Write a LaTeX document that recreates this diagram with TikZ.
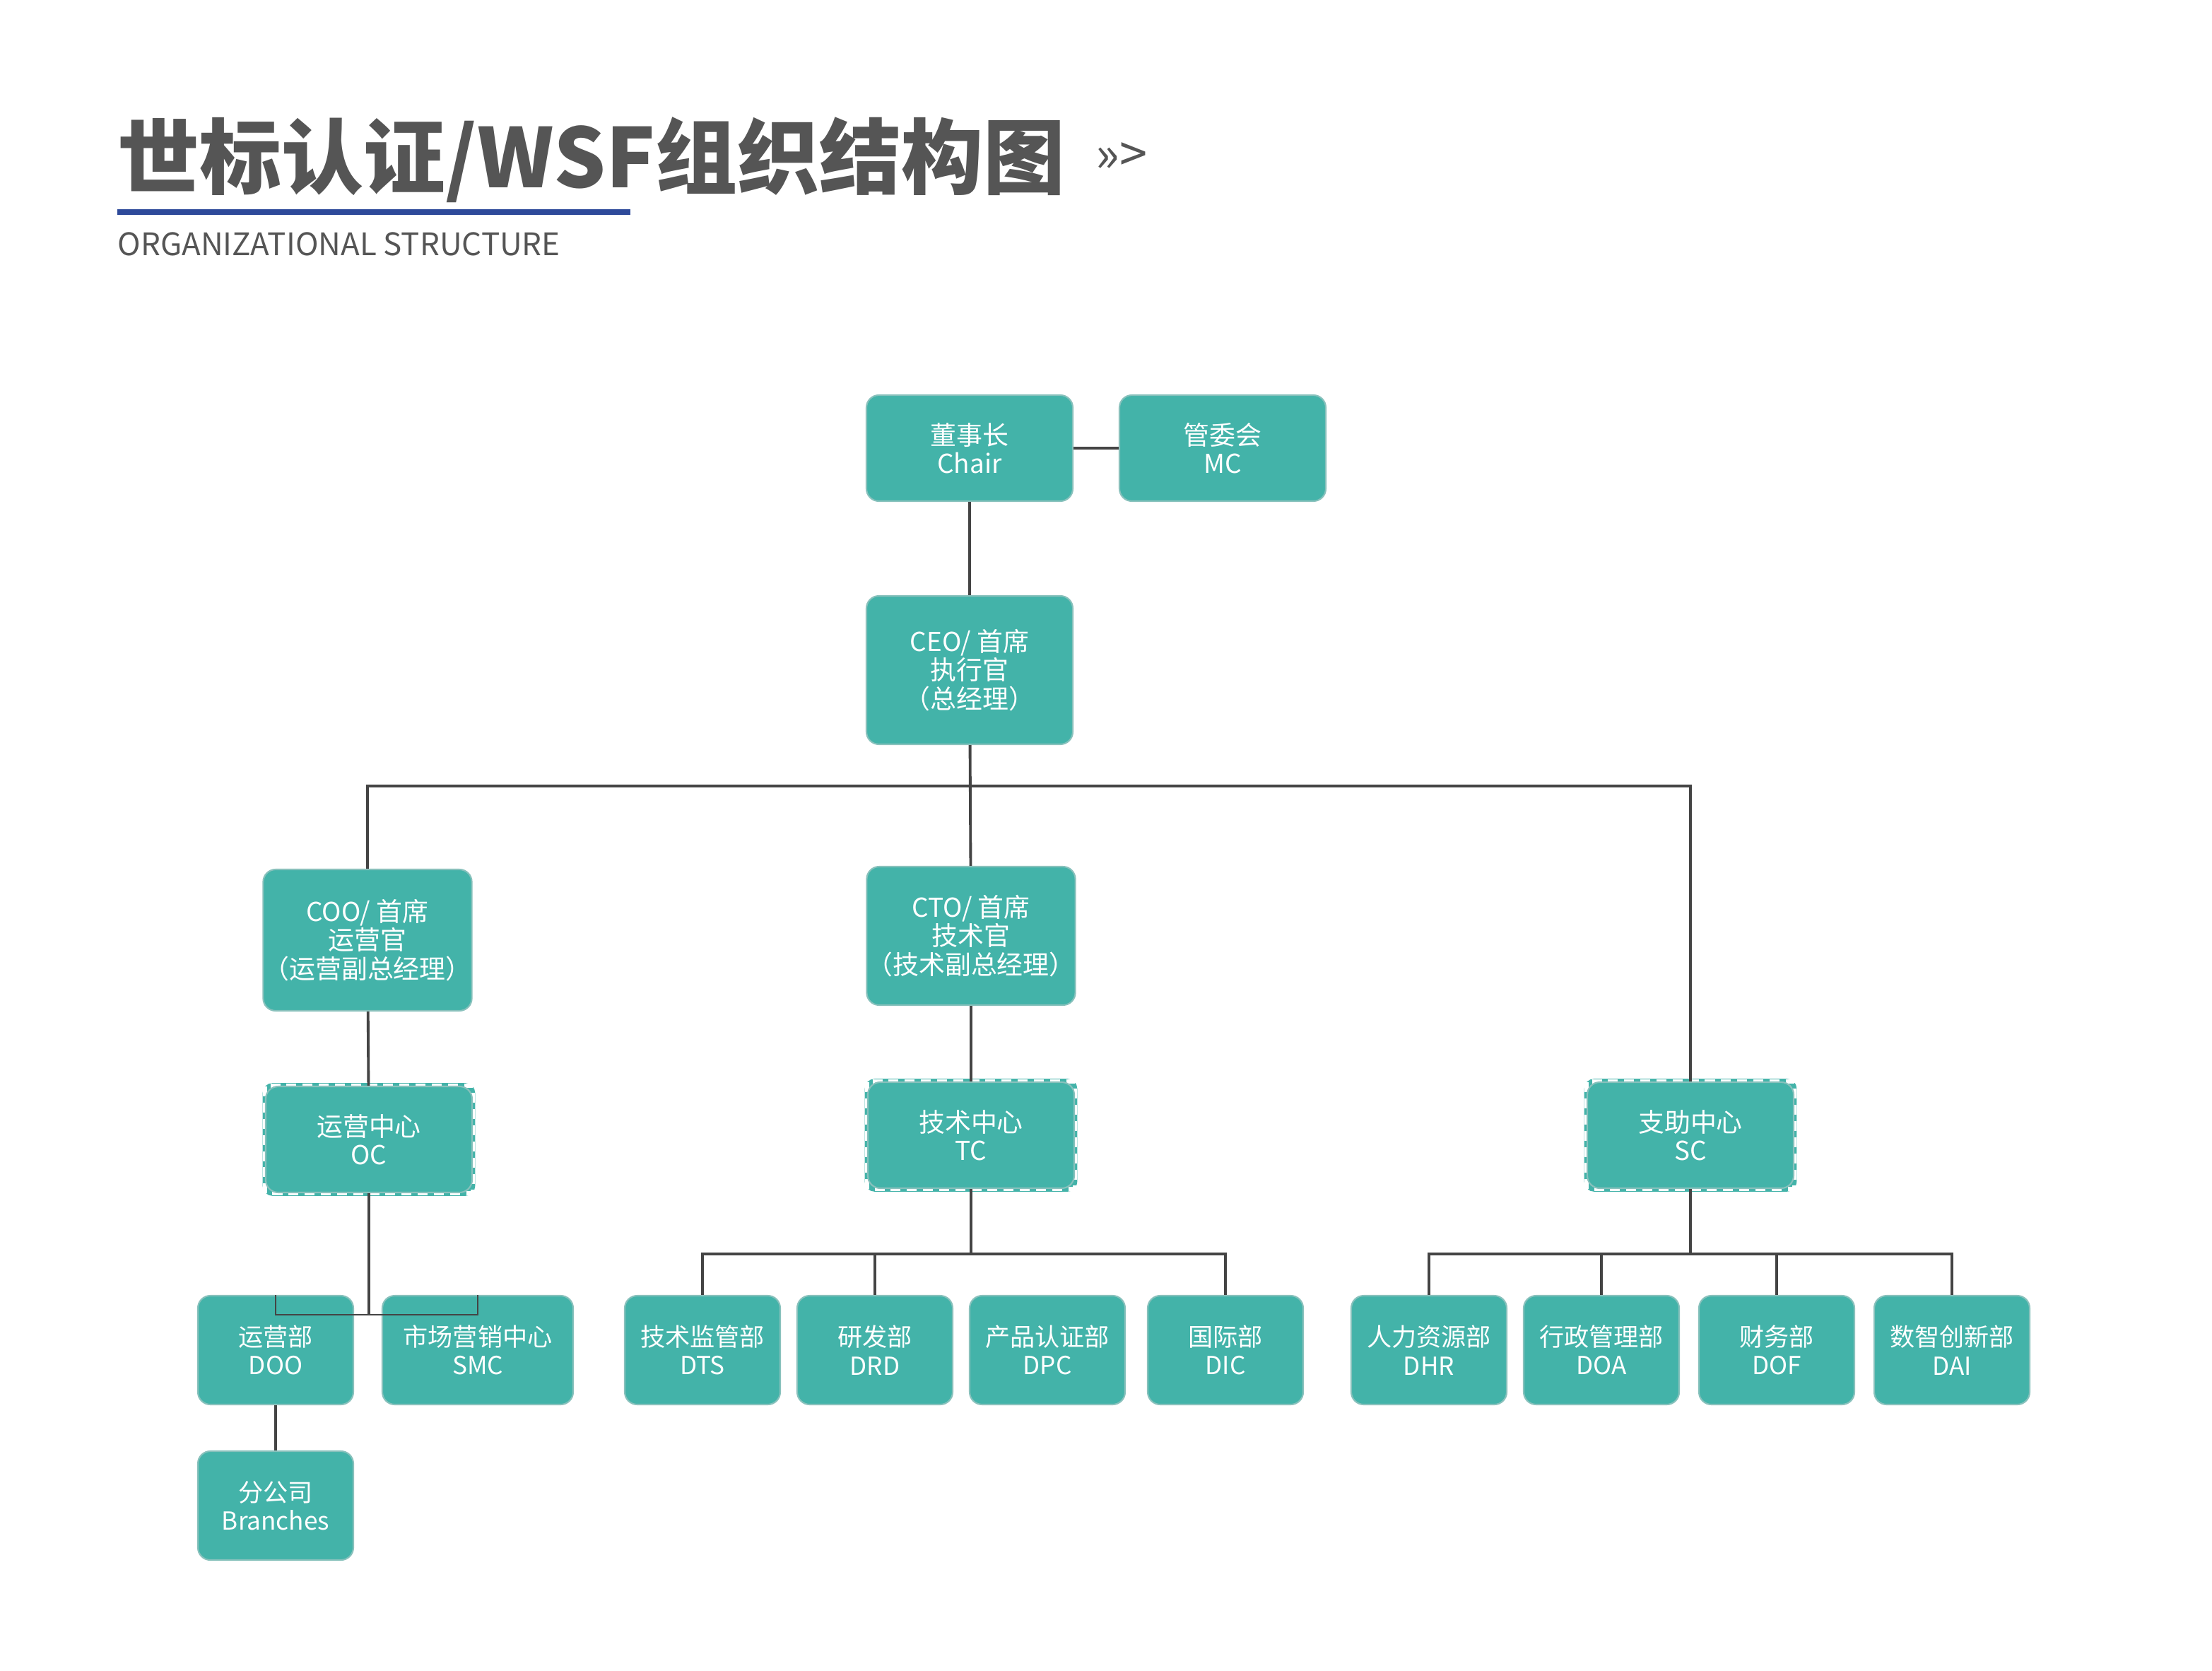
\documentclass[tikz,border=0pt]{standalone}
\usepackage{fontspec}
\setmainfont{Noto Sans CJK SC}
\usetikzlibrary{calc}
\definecolor{orgteal}{HTML}{43B3A9}
\definecolor{orgline}{HTML}{444444}
\definecolor{orgblue}{HTML}{2E4A9A}
\definecolor{orggray}{HTML}{555555}

\tikzset{
  unit/.style={fill=orgteal, draw=orgteal!85!black!60, line width=0.6pt, rounded corners=5pt,
    text=white, font=\fontsize{10.5}{11.5}\selectfont, align=center, inner sep=0pt,
    minimum width=2.92cm, minimum height=1.5cm,
    append after command={
      \pgfextra{\draw[white, line width=1.6pt, rounded corners=3pt]
        ($(\tikzlastnode.south west)+(0.12,0.12)$) rectangle ($(\tikzlastnode.north east)-(0.12,0.12)$);}}},
  centre/.style={unit,
    append after command={
      \pgfextra{\draw[orgteal, line width=2pt, rounded corners=3pt]
        ($(\tikzlastnode.south west)+(0.12,0.12)$) rectangle ($(\tikzlastnode.north east)-(0.12,0.12)$);
        \draw[white, line width=1.6pt, dash pattern=on 4pt off 2.5pt]
        ($(\tikzlastnode.south west)+(0.12,0.12)$) rectangle ($(\tikzlastnode.north east)-(0.12,0.12)$);}}},
  dept/.style={unit, minimum width=2.2cm, minimum height=1.54cm, font=\fontsize{10}{11.5}\selectfont},
  link/.style={draw=orgline, line width=1.1pt},
}

\begin{document}
\begin{tikzpicture}[x=0.02cm, y=-0.02cm]
\useasboundingbox (0,0) rectangle (1565,1182);

% title
\node[anchor=base west, inner sep=0pt, text=orggray, font=\fontsize{33}{36}\selectfont\bfseries] (title) at (83,133) {世标认证/WSF组织结构图};
\node[anchor=base west, inner sep=0pt, text=orggray, font=\fontsize{20}{22}\selectfont] (arrows) at (775,122) {>>>};
\fill[orgblue] (83,148) rectangle (446,152);
\node[anchor=base west, inner sep=0pt, text=orggray, font=\fontsize{12.5}{14}\selectfont] (sub) at (83,181) {ORGANIZATIONAL STRUCTURE};

% top
\node[unit] (chair) at (686,317) {董事长\\Chair};
\node[unit] (mc) at (865,317) {管委会\\MC};
\node[unit, minimum height=2.1cm] (ceo) at (686,474) {CEO/ 首席\\执行官\\（总经理）};

% second level
\node[unit, minimum height=2cm] (coo) at (260,665) {COO/ 首席\\运营官\\（运营副总经理）};
\node[unit, minimum height=1.96cm] (cto) at (687,662) {CTO/ 首席\\技术官\\（技术副总经理）};

% centres
\node[centre] (oc) at (261,806) {运营中心\\OC};
\node[centre] (tc) at (687,803) {技术中心\\TC};
\node[centre] (sc) at (1196,803) {支助中心\\SC};

% departments
\node[dept] (doo) at (195,955) {运营部\\DOO};
\node[dept, minimum width=2.7cm] (smc) at (338,955) {市场营销中心\\SMC};
\node[dept] (br) at (195,1065) {分公司\\Branches};
\foreach \nm/\cn/\en/\x in {dts/技术监管部/DTS/497, drd/研发部/DRD/619, dpc/产品认证部/DPC/741, dic/国际部/DIC/867,
  dhr/人力资源部/DHR/1011, doa/行政管理部/DOA/1133, dof/财务部/DOF/1257, dai/数智创新部/DAI/1381}
  \node[dept] (\nm) at (\x,955) {\cn\\\en};

% connectors
\draw[link] (chair) -- (mc);
\draw[link] (chair) -- (ceo);
\draw[link] (ceo) -- (cto);
\coordinate (bus) at (ceo.south |- 0,556);
\draw[link] (bus) -| (coo.north);
\draw[link] (bus) -| (sc.north);
\draw[link] (coo) -- (oc);
\draw[link] (cto) -- (tc);

\draw[link] (oc.south) -- ++(0,86) coordinate (ocbus);
\draw[link, line width=0.7pt] (ocbus) -| (doo.north);
\draw[link, line width=0.7pt] (ocbus) -| (smc.north);
\draw[link] (doo) -- (br);

\draw[link] (tc.south) -- ++(0,46) coordinate (tcbus);
\draw[link] (tcbus) -| (dts.north);
\draw[link] (tcbus) -| (dic.north);
\draw[link] (drd.north) -- (drd.north |- tcbus);

\draw[link] (sc.south) -- ++(0,46) coordinate (scbus);
\draw[link] (scbus) -| (dhr.north);
\draw[link] (scbus) -| (dai.north);
\foreach \nm in {doa, dof}
  \draw[link] (\nm.north) -- (\nm.north |- scbus);

\end{tikzpicture}
\end{document}
